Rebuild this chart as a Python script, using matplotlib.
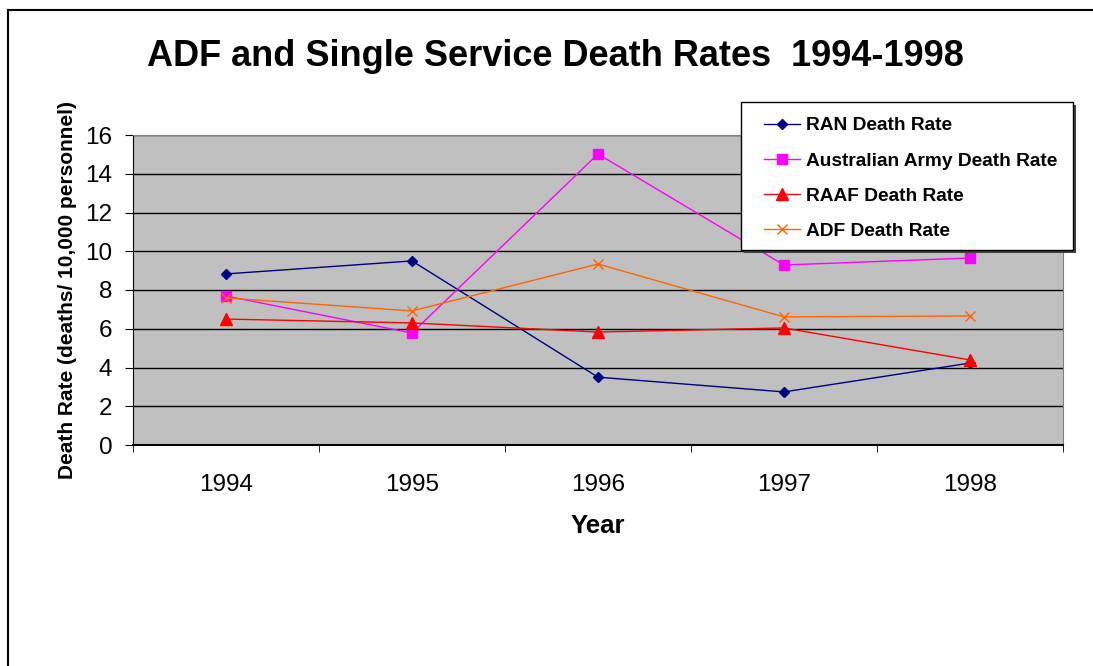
import matplotlib.pyplot as plt
from matplotlib.patches import Rectangle

plt.rcParams['font.family'] = ['Liberation Sans', 'DejaVu Sans']

years = ['1994', '1995', '1996', '1997', '1998']
ran = [8.83, 9.5, 3.5, 2.74, 4.23]
army = [7.69, 5.78, 15.02, 9.29, 9.65]
raaf = [6.5, 6.3, 5.83, 6.04, 4.39]
adf = [7.59, 6.92, 9.34, 6.61, 6.66]

W, H = 1093, 666
fig = plt.figure(figsize=(W / 100, H / 100), dpi=100)
# outer chart border (cut off at right/bottom like the screenshot)
fig.patches.append(Rectangle((8 / W, -0.1), 1.2, 1 - 10 / H + 0.1, transform=fig.transFigure,
                             fill=False, edgecolor='black', linewidth=1.5))

ax = fig.add_axes([133 / W, 1 - 445 / H, 930 / W, 310 / H])
ax.set_facecolor('#C0C0C0')

x = list(range(len(years)))
ax.plot(x, ran, color='#000080', marker='D', markersize=5, lw=1, label='RAN Death Rate')
ax.plot(x, army, color='#FF00FF', marker='s', markersize=7, lw=1, label='Australian Army Death Rate')
ax.plot(x, raaf, color='#FF0000', marker='^', markersize=8, lw=1, label='RAAF Death Rate')
ax.plot(x, adf, color='#FF6600', marker='x', markersize=7, mew=1, lw=1, label='ADF Death Rate')

ax.set_xlim(-0.5, 4.5)
ax.set_ylim(0, 16)
ax.set_yticks(range(0, 17, 2))
ax.yaxis.grid(True, color='black', lw=1)
ax.set_axisbelow(True)
ax.set_xticks(x)
ax.set_xticklabels(years)
ax.set_xticks([i - 0.5 for i in range(6)], minor=True)
ax.tick_params(axis='x', which='major', length=0, pad=21, labelsize=17.5)
ax.tick_params(axis='x', which='minor', length=5, direction='out')
ax.tick_params(axis='y', length=6, direction='out', labelsize=17.5, pad=9)

for s in ['top', 'right']:
    ax.spines[s].set_color('#808080')
ax.spines['left'].set_color('black')
ax.spines['bottom'].set_color('black')
ax.spines['bottom'].set_linewidth(1.5)

ax.set_xlabel('Year', fontsize=18.5, fontweight='bold', labelpad=13)
ax.set_ylabel('Death Rate (deaths/ 10,000 personnel)', fontsize=15, fontweight='bold', labelpad=6)

fig.text(555 / W, 1 - 57 / H, 'ADF and Single Service Death Rates  1994-1998',
         ha='center', va='center', fontsize=26, fontweight='bold')

# legend box with shadow
fig.patches.append(Rectangle((744 / W, 1 - 253 / H), 332 / W, 148 / H, transform=fig.transFigure,
                             facecolor='#404040', edgecolor='none', zorder=2))
fig.patches.append(Rectangle((741 / W, 1 - 250 / H), 332 / W, 148 / H, transform=fig.transFigure,
                             facecolor='white', edgecolor='black', linewidth=1, zorder=3))
handles, labels = ax.get_legend_handles_labels()
leg = fig.legend(handles, labels, loc='upper left', bbox_to_anchor=(764 / W, 1 - 117 / H),
                 frameon=False, prop={'size': 13.8, 'weight': 'bold'}, labelspacing=0.93,
                 handlelength=1.9, borderpad=0, handletextpad=0.3, borderaxespad=0)
leg.set_zorder(5)

fig.savefig('out.png', dpi=100)
